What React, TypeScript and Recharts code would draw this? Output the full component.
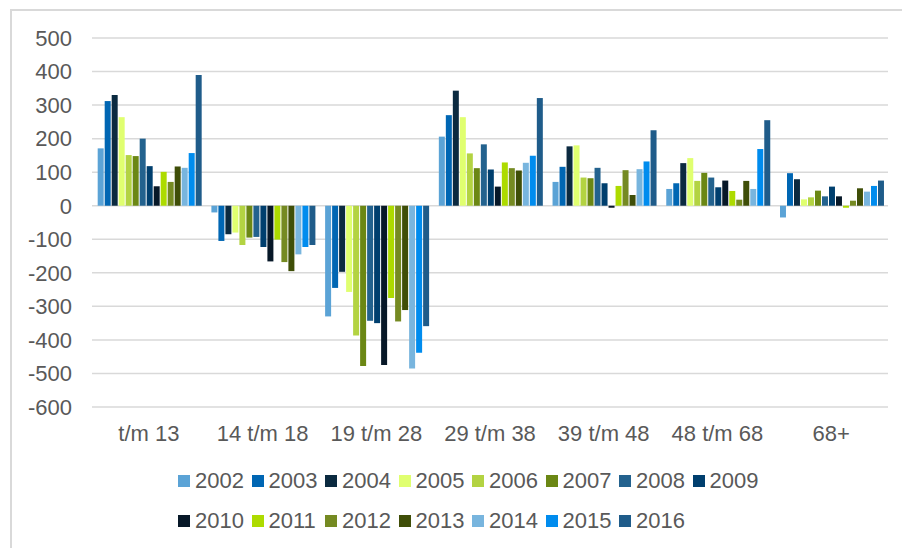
import { BarChart, Bar, CartesianGrid, XAxis, YAxis, Legend } from 'recharts';

const categories = ['t/m 13', '14 t/m 18', '19 t/m 28', '29 t/m 38', '39 t/m 48', '48 t/m 68', '68+'];

const v2002 = [171, -20, -330, 206, 71, 50, -35];
const v2003 = [312, -105, -245, 270, 116, 67, 97];
const v2004 = [330, -85, -197, 343, 177, 127, 79];
const v2005 = [264, -80, -257, 264, 180, 142, 19];
const v2006 = [151, -117, -387, 156, 84, 74, 25];
const v2007 = [148, -95, -478, 112, 82, 98, 45];
const v2008 = [200, -93, -343, 183, 113, 84, 28];
const v2009 = [118, -123, -350, 108, 67, 55, 57];
const v2010 = [58, -166, -475, 57, -6, 75, 28];
const v2011 = [101, -101, -275, 129, 59, 44, -6];
const v2012 = [71, -168, -345, 112, 106, 18, 15];
const v2013 = [117, -195, -311, 105, 32, 74, 52];
const v2014 = [113, -145, -485, 128, 109, 50, 42];
const v2015 = [157, -123, -438, 149, 132, 169, 59];
const v2016 = [390, -117, -359, 321, 225, 255, 75];

const years = ['2002', '2003', '2004', '2005', '2006', '2007', '2008', '2009', '2010', '2011', '2012', '2013', '2014', '2015', '2016'];
const values = [v2002, v2003, v2004, v2005, v2006, v2007, v2008, v2009, v2010, v2011, v2012, v2013, v2014, v2015, v2016];
const colors = ['#5BA3D6', '#0066B3', '#0B2A40', '#E0FF70', '#B3D342', '#6B8714', '#23628E', '#003F6E',
  '#071828', '#ADDB00', '#758A22', '#3F4E08', '#78B5DE', '#008CEE', '#1F5C8A'];

const yTicks = [-600, -500, -400, -300, -200, -100, 0, 100, 200, 300, 400, 500];

const data = categories.map((name, i) => {
  const row: Record<string, string | number> = { name };
  years.forEach((y, j) => { row[y] = values[j][i]; });
  return row;
});

const font = '"Liberation Sans", Arial, sans-serif';
const textColor = '#595959';

// two fixed rows like the original legend
const renderLegend = () => {
  const rows = [years.slice(0, 8), years.slice(8)];
  return (
    <div style={{ height: 84, paddingTop: 4, boxSizing: 'border-box', paddingLeft: 178, fontFamily: font, fontSize: 22, color: textColor }}>
      {rows.map((row, r) => (
        <div key={r} style={{ height: 40, display: 'flex', alignItems: 'center' }}>
          {row.map((y) => (
            <div key={y} style={{ width: 73.5, display: 'flex', alignItems: 'center' }}>
              <span style={{ width: 12, height: 12, background: colors[years.indexOf(y)], marginRight: 5, display: 'inline-block' }} />
              <span>{y}</span>
            </div>
          ))}
        </div>
      ))}
    </div>
  );
};

export default function App() {
  return (
    <div style={{ position: 'absolute', left: 0, top: 0, width: 902, height: 548, overflow: 'hidden', background: '#fff' }}>
      <div style={{ position: 'absolute', left: 10, top: 9, width: 920, height: 600, border: '2px solid #D9D9D9', boxSizing: 'border-box' }} />
      <div style={{ position: 'absolute', left: 0, top: 0 }}>
        <BarChart width={902} height={548} data={data} barGap={1} barCategoryGap="5%"
          margin={{ top: 38, right: 14, bottom: 7, left: 0 }}>
          <CartesianGrid vertical={false} stroke="#D9D9D9" strokeWidth={1.5} />
          <XAxis dataKey="name" axisLine={false} tickLine={false} height={50} tickSize={0} tickMargin={18}
            tick={{ fill: textColor, fontSize: 22, fontFamily: font }} interval={0} />
          <YAxis domain={[-600, 500]} ticks={yTicks} axisLine={false} tickLine={false} width={92} tickSize={0} tickMargin={20}
            tick={{ fill: textColor, fontSize: 22, fontFamily: font }} interval={0} />
          <Legend verticalAlign="bottom" content={renderLegend} wrapperStyle={{ left: 0, width: 902 }} />
          {years.map((y, j) => (
            <Bar key={y} dataKey={y} fill={colors[j]} isAnimationActive={false} />
          ))}
        </BarChart>
      </div>
    </div>
  );
}
